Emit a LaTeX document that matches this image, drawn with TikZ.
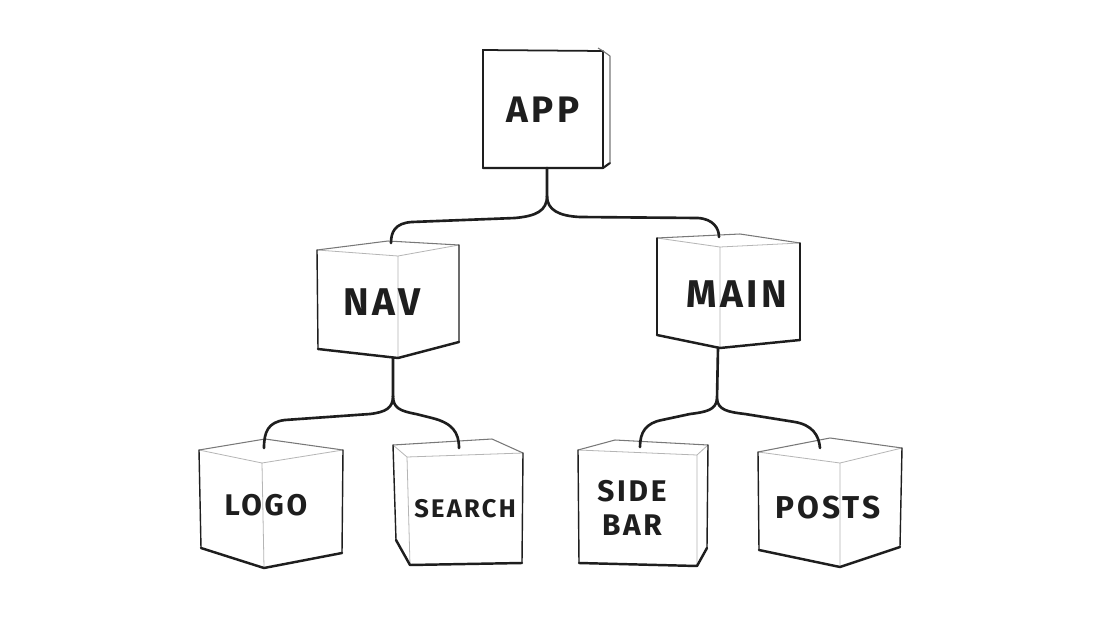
\documentclass[tikz,border=0pt]{standalone}
\usepackage{fontspec}
\setmainfont{Fira Sans}
\newfontfamily\handfont{Fira Sans}[LetterSpace=9]
\usepackage{tikz}
\usetikzlibrary{positioning}
\definecolor{cLine}{RGB}{30,30,30}
\definecolor{cSoft}{RGB}{150,150,150}
\tikzset{
  edgeback/.style={draw=cSoft!80!black, line width=0.6pt, line join=round},
  edgeinner/.style={draw=cSoft!70, line width=0.45pt, line join=round},
  edgeside/.style={draw=cLine, line width=0.8pt, line cap=round},
  edgebottom/.style={draw=cLine, line width=1.4pt, line cap=round, line join=round},
  lbl/.style={text=cLine, align=center, inner sep=1pt},
  wire/.style={draw=cLine, line width=1.5pt, line cap=round, line join=round},
}
% #1 top-left, #2 back, #3 top-right, #4 front-top,
% #5 bottom-left, #6 front-bottom, #7 bottom-right
\newcommand{\cube}[7]{%
  \fill[white] #1 -- #2 -- #3 -- #7 -- #6 -- #5 -- cycle;
  \draw[edgeinner] #1 -- #4 -- #3 #4 -- #6;
  \draw[edgeback] #1 -- #2 -- #3;
  \draw[edgeside] #1 -- #5 #3 -- #7;
  \draw[edgebottom] #5 -- #6 -- #7;
}
\newcommand{\lblfont}[1]{\fontsize{#1}{1.15\dimexpr#1pt\relax}\handfont\bfseries}

\begin{document}
\begin{tikzpicture}[x=0.02cm, y=-0.02cm]
  \useasboundingbox[fill=white] (0,0) rectangle (1100,619);

  % --- cubes ---
  \fill[white] (483,50) rectangle (610,168);
  \draw[edgeside, line width=1pt] (603,51) -- (483,50) -- (483,168);
  \draw[edgebottom, line width=1.2pt] (483,168) -- (603,168) -- (610,163);
  \draw[cLine, line width=0.9pt] (603,51) -- (603,168);
  \draw[edgeback] (603,51) -- (598,48) (603,51) -- (610,56) -- (610,163);
  \cube{(317,250)}{(388,241)}{(459,245)}{(398,256)}{(318,349)}{(398,358)}{(459,342)}
  \cube{(657,238)}{(740,234)}{(800,243)}{(720,247)}{(657,335)}{(720,348)}{(800,340)}
  \cube{(199,450)}{(265,439)}{(343,450)}{(262,463)}{(201,548)}{(264,568)}{(342,553)}
  \cube{(393,445)}{(492,439)}{(523,453)}{(407,457)}{(396,540)}{(410,565)}{(522,563)}
  \cube{(578,450)}{(615,440)}{(708,445)}{(697,455)}{(579,563)}{(697,566)}{(707,548)}
  \cube{(758,452)}{(830,438)}{(902,448)}{(840,463)}{(759,550)}{(840,567)}{(900,547)}

  % --- labels ---
  \node[lbl, font=\lblfont{21}] (app) at (543,110) {APP};
  \node[lbl, font=\lblfont{22}] (nav) at (382,302) {NAV};
  \node[lbl, font=\lblfont{22}] (main) at (737,294) {MAIN};
  \node[lbl, font=\lblfont{17}] (logo) at (266,505) {LOGO};
  \node[lbl, font=\lblfont{14.5}] (search) at (465,509) {SEARCH};
  \node[lbl, font=\lblfont{17}] (sidebar) at (632,508) {SIDE\\BAR};
  \node[lbl, font=\lblfont{18}] (posts) at (828,508) {POSTS};

  % --- wire ends ---
  \coordinate (app-out) at (547,168);
  \coordinate (nav-in) at (391,243);
  \coordinate (main-in) at (719,237);
  \coordinate (nav-out) at (393,358);
  \coordinate (logo-in) at (264,448);
  \coordinate (search-in) at (459,448);
  \coordinate (main-out) at (718,348);
  \coordinate (sidebar-in) at (640,447);
  \coordinate (posts-in) at (820,448);

  % --- wires ---
  \draw[wire] (app-out) -- (547,196) .. controls (547,211) and (536,216) .. (515,218)
    -- (412,222) .. controls (395,223) and (391,232) .. (nav-in);
  \draw[wire] (547,196) .. controls (547,210) and (559,216) .. (580,217)
    -- (698,218) .. controls (713,219) and (719,228) .. (main-in);
  \draw[wire] (nav-out) -- (393,396) .. controls (393,408) and (386,412) .. (370,414)
    -- (285,420) .. controls (268,422) and (264,432) .. (logo-in);
  \draw[wire] (393,396) .. controls (393,408) and (400,411) .. (416,414)
    -- (432,418) .. controls (452,423) and (459,432) .. (search-in);
  \draw[wire] (main-out) -- (717,399) .. controls (716,410) and (706,412) .. (690,414)
    -- (662,420) .. controls (646,423) and (640,432) .. (sidebar-in);
  \draw[wire] (717,399) .. controls (718,410) and (728,412) .. (745,414)
    -- (795,422) .. controls (812,425) and (819,435) .. (posts-in);
\end{tikzpicture}
\end{document}
